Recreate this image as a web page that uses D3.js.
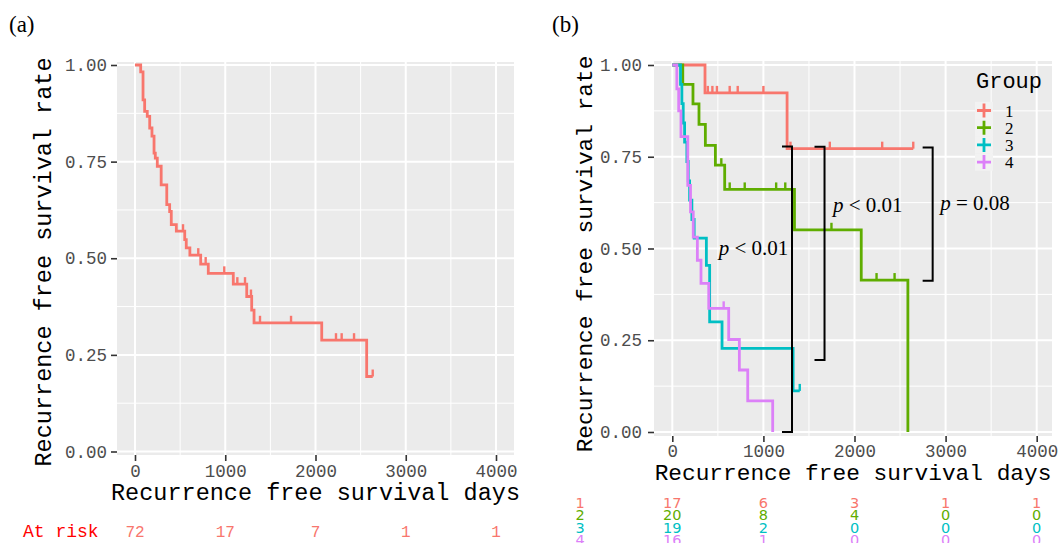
<!DOCTYPE html>
<meta charset="utf-8">
<script src="https://d3js.org/d3.v7.min.js"></script>
<style>
  body { margin: 0; background: #fff; }
  svg text { font-family: "Liberation Mono", "DejaVu Sans Mono", monospace; }
</style>
<div id="chart"></div>
<script>

// ---------- data ----------
// panel (a): all patients, [day of drop, survival after drop]
var allSteps = [[0,1],[63,0.982],[89,0.910],[107,0.880],[136,0.867],[163,0.837],[188,0.816],
  [211,0.772],[225,0.759],[247,0.738],[290,0.690],[352,0.639],[384,0.621],[402,0.587],
  [458,0.570],[551,0.548],[568,0.527],[608,0.508],[728,0.485],[812,0.461],[1089,0.433],
  [1238,0.401],[1293,0.366],[1319,0.333],[2069,0.288],[2567,0.194]];
var allEnd = 2634;
var allCensor = [532,701,783,989,1134,1219,1285,1385,1729,2227,2290,2427,2634];

var riskTimes = [0,1000,2000,3000,4000];
var allRisk = [72,17,7,1,1];

// panel (b): four groups
var groups = ["1","2","3","4"];
var groupColors = ["#F8766D","#5FAD00","#00BFC4","#DC80F8"];

var g1Steps = [[0,1],[359,0.924],[1260,0.772]];
var g2Steps = [[0,1],[115,0.947],[227,0.894],[293,0.838],[363,0.781],[473,0.727],[575,0.661],
  [1341,0.551],[2074,0.414],[2586,0]];
var g3Steps = [[0,1],[90,0.947],[105,0.895],[120,0.842],[135,0.790],[160,0.737],[175,0.684],
  [190,0.632],[215,0.579],[240,0.528],[374,0.454],[410,0.300],[546,0.228],[1326,0.112]];
var g4Steps = [[0,1],[50,0.935],[70,0.875],[95,0.805],[170,0.672],[200,0.600],[230,0.531],
  [275,0.468],[315,0.405],[400,0.337],[619,0.252],[736,0.169],[828,0.085],[1102,0]];
var groupSteps = [g1Steps, g2Steps, g3Steps, g4Steps];
var groupEnd = [2645, 2586, 1399, 1102];
var groupCensor = [
  [390,440,490,630,718,1000,1297,1729,2304,2645],
  [538,630,795,1140,1240,1747,2242,2440],
  [1399],
  [564]
];
var groupRisk = [[17,6,3,1,1],[20,8,4,0,0],[19,2,0,0,0],[16,1,0,0,0]];

// pairwise comparison brackets: day of bracket, top and bottom survival
var brackets = [
  {day: 1314, top: 0.778, bottom: 0,     p: "< 0.01", labelDay: 1274, labelS: 0.482, anchor: "end"},
  {day: 1671, top: 0.777, bottom: 0.196, p: "< 0.01", labelDay: 1764, labelS: 0.600, anchor: "start"},
  {day: 2858, top: 0.775, bottom: 0.412, p: "= 0.08", labelDay: 2940, labelS: 0.605, anchor: "start"}
];

var yTicks = [0, 0.25, 0.5, 0.75, 1];
var yMinor = [0.125, 0.375, 0.625, 0.875];
var xTicks = [0, 1000, 2000, 3000, 4000];
var xMinor = [500, 1500, 2500, 3500];

// ---------- drawing ----------
var svg = d3.select("#chart").append("svg")
  .attr("width", 1059).attr("height", 543);

function survAt(steps, t) {
  var s = 1;
  steps.forEach(function(d) { if (d[0] <= t) s = d[1]; });
  return s;
}

function drawPanel(p) {
  var x = d3.scaleLinear().domain([0, 4000]).range(p.xr);
  var y = d3.scaleLinear().domain([0, 1]).range(p.yr);
  var g = svg.append("g");

  g.append("rect")
    .attr("x", p.left).attr("y", p.top)
    .attr("width", p.right - p.left).attr("height", p.bottom - p.top)
    .attr("fill", "#EBEBEB");

  // grid
  g.selectAll(".ymin").data(yMinor).enter().append("line")
    .attr("x1", p.left).attr("x2", p.right)
    .attr("y1", d => y(d)).attr("y2", d => y(d))
    .attr("stroke", "#fff").attr("stroke-width", 1);
  g.selectAll(".xmin").data(xMinor).enter().append("line")
    .attr("y1", p.top).attr("y2", p.bottom)
    .attr("x1", d => x(d)).attr("x2", d => x(d))
    .attr("stroke", "#fff").attr("stroke-width", 1);
  g.selectAll(".ymaj").data(yTicks).enter().append("line")
    .attr("x1", p.left).attr("x2", p.right)
    .attr("y1", d => y(d)).attr("y2", d => y(d))
    .attr("stroke", "#fff").attr("stroke-width", 2);
  g.selectAll(".xmaj").data(xTicks).enter().append("line")
    .attr("y1", p.top).attr("y2", p.bottom)
    .attr("x1", d => x(d)).attr("x2", d => x(d))
    .attr("stroke", "#fff").attr("stroke-width", 2);

  // axes
  var ya = g.append("g")
    .attr("transform", "translate(" + p.left + ",0)")
    .call(d3.axisLeft(y).tickValues(yTicks).tickFormat(d3.format(".2f"))
      .tickSize(6).tickPadding(p.yPad));
  var xa = g.append("g")
    .attr("transform", "translate(0," + p.bottom + ")")
    .call(d3.axisBottom(x).tickValues(xTicks).tickFormat(d3.format("d"))
      .tickSize(6).tickPadding(p.xPad));
  [ya, xa].forEach(function(a) {
    a.select(".domain").remove();
    a.selectAll(".tick line").attr("stroke", "#333").attr("stroke-width", 1.6);
    a.selectAll(".tick text").attr("fill", "#4D4D4D")
      .style("font-size", "17.5px")
      .style("font-family", "'Liberation Mono', monospace");
  });

  // titles
  g.append("text")
    .attr("x", (p.left + p.right) / 2).attr("y", p.xTitleY)
    .attr("text-anchor", "middle")
    .style("font-size", p.titleSize + "px")
    .text("Recurrence free survival days");
  g.append("text")
    .attr("transform", "translate(" + p.yTitleX + "," + p.yTitleC + ") rotate(-90)")
    .attr("text-anchor", "middle")
    .style("font-size", p.titleSize + "px")
    .text("Recurrence free survival rate");

  g.append("text")
    .attr("x", p.tagX).attr("y", 32)
    .style("font-family", "'Liberation Serif', 'DejaVu Serif', serif")
    .style("font-size", "23px")
    .text(p.tag);

  return {x: x, y: y, g: g};
}

function drawCurve(pp, steps, end, censor, color) {
  var pts = steps.slice();
  pts.push([end, steps[steps.length - 1][1]]);
  var line = d3.line()
    .x(d => pp.x(d[0])).y(d => pp.y(d[1]))
    .curve(d3.curveStepAfter);
  pp.g.append("path")
    .attr("d", line(pts))
    .attr("fill", "none")
    .attr("stroke", color)
    .attr("stroke-width", 2.8);
  pp.g.selectAll(null).data(censor).enter().append("line")
    .attr("x1", d => pp.x(d)).attr("x2", d => pp.x(d))
    .attr("y1", d => pp.y(survAt(steps, d)))
    .attr("y2", d => pp.y(survAt(steps, d)) - 7)
    .attr("stroke", color).attr("stroke-width", 2.4);
}

// ----- panel (a)
var pa = drawPanel({
  left: 117, right: 514, top: 62, bottom: 455,
  xr: [135, 496], yr: [451.5, 65],
  yPad: 4, xPad: 4, titleSize: 23.5,
  xTitleY: 500, yTitleX: 51, yTitleC: 262,
  tag: "(a)", tagX: 9
});
drawCurve(pa, allSteps, allEnd, allCensor, "#F8766D");

pa.g.append("text")
  .attr("x", 23).attr("y", 537)
  .attr("fill", "#FF0000")
  .style("font-size", "18px")
  .text("At risk");
pa.g.selectAll(null).data(allRisk).enter().append("text")
  .attr("x", (d, i) => pa.x(riskTimes[i]))
  .attr("y", 537)
  .attr("text-anchor", "middle")
  .attr("fill", "#F8766D")
  .style("font-size", "16px")
  .text(d => d);

// ----- panel (b)
var pb = drawPanel({
  left: 654, right: 1052, top: 61, bottom: 436,
  xr: [672.3, 1036.7], yr: [432, 65],
  yPad: 6, xPad: 3, titleSize: 22.8,
  xTitleY: 480, yTitleX: 592, yTitleC: 254,
  tag: "(b)", tagX: 552
});
groups.forEach(function(gname, i) {
  drawCurve(pb, groupSteps[i], groupEnd[i], groupCensor[i], groupColors[i]);
});

// brackets
brackets.forEach(function(b) {
  var xr = pb.x(b.day), xl = pb.x(b.day - 110);
  pb.g.append("path")
    .attr("d", "M" + xl + "," + pb.y(b.top) + "H" + xr + "V" + pb.y(b.bottom) + "H" + xl)
    .attr("fill", "none").attr("stroke", "#000").attr("stroke-width", 2);
  var t = pb.g.append("text")
    .attr("x", pb.x(b.labelDay)).attr("y", pb.y(b.labelS))
    .attr("text-anchor", b.anchor)
    .style("font-family", "'Liberation Serif', 'DejaVu Serif', serif")
    .style("font-size", "21px");
  t.append("tspan").style("font-style", "italic").text("p");
  t.append("tspan").text(" " + b.p);
});

// legend
var leg = pb.g.append("g");
leg.append("text")
  .attr("x", 976).attr("y", 88)
  .style("font-size", "22px")
  .text("Group");
groups.forEach(function(gname, i) {
  var cy = 110.5 + i * 17.2;
  leg.append("rect")
    .attr("x", 975).attr("y", cy - 8.6)
    .attr("width", 18).attr("height", 17.2)
    .attr("fill", "#F2F2F2");
  leg.append("path")
    .attr("d", "M977," + cy + "H991M984," + (cy - 7) + "V" + (cy + 7))
    .attr("stroke", groupColors[i]).attr("stroke-width", 2.8);
  leg.append("text")
    .attr("x", 1005).attr("y", cy + 6)
    .style("font-family", "'Liberation Serif', 'DejaVu Serif', serif")
    .style("font-size", "17px")
    .text(gname);
});

// risk table (b)
groups.forEach(function(gname, i) {
  var by = 507.5 + i * 12.5;
  pb.g.append("text")
    .attr("x", 580).attr("y", by)
    .attr("text-anchor", "middle")
    .attr("fill", groupColors[i])
    .style("font-family", "'DejaVu Sans', sans-serif")
    .style("font-size", "14.5px")
    .text(gname);
  pb.g.selectAll(null).data(groupRisk[i]).enter().append("text")
    .attr("x", (d, j) => pb.x(riskTimes[j]))
    .attr("y", by)
    .attr("text-anchor", "middle")
    .attr("fill", groupColors[i])
    .style("font-family", "'DejaVu Sans', sans-serif")
    .style("font-size", "14.5px")
    .text(d => d);
});

</script>
